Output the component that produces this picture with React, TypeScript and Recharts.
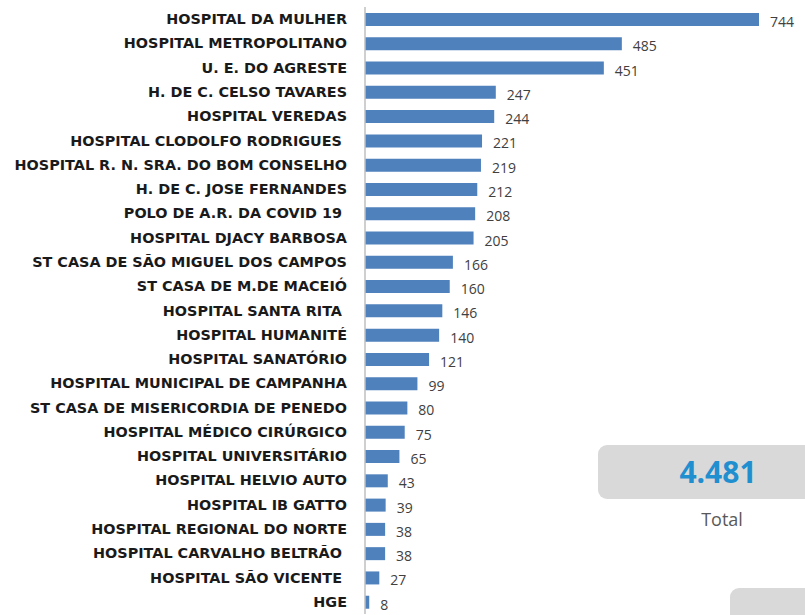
import React from 'react'
import { BarChart, Bar, XAxis, YAxis, LabelList } from 'recharts'

const hospitals = [
  'HOSPITAL DA MULHER',
  'HOSPITAL METROPOLITANO',
  'U. E. DO AGRESTE',
  'H. DE C. CELSO TAVARES',
  'HOSPITAL VEREDAS',
  'HOSPITAL CLODOLFO RODRIGUES ',
  'HOSPITAL R. N. SRA. DO BOM CONSELHO',
  'H. DE C. JOSE FERNANDES',
  'POLO DE A.R. DA COVID 19 ',
  'HOSPITAL DJACY BARBOSA',
  'ST CASA DE SÃO MIGUEL DOS CAMPOS',
  'ST CASA DE M.DE MACEIÓ',
  'HOSPITAL SANTA RITA ',
  'HOSPITAL HUMANITÉ',
  'HOSPITAL SANATÓRIO',
  'HOSPITAL MUNICIPAL DE CAMPANHA',
  'ST CASA DE MISERICORDIA DE PENEDO',
  'HOSPITAL MÉDICO CIRÚRGICO',
  'HOSPITAL UNIVERSITÁRIO',
  'HOSPITAL HELVIO AUTO',
  'HOSPITAL IB GATTO',
  'HOSPITAL REGIONAL DO NORTE',
  'HOSPITAL CARVALHO BELTRÃO ',
  'HOSPITAL SÃO VICENTE ',
  'HGE',
]

const counts = [744, 485, 451, 247, 244, 221, 219, 212, 208, 205, 166, 160, 146, 140, 121, 99, 80, 75, 65, 43, 39, 38, 38, 27, 8]

const totalLabel = '4.481'

const data = hospitals.map((name, i) => ({ name, v: counts[i] }))

const HospitalTick = (props: any) => {
  const { y, payload } = props
  return (
    <text
      x={347}
      y={y}
      dy={5}
      textAnchor="end"
      fill="#1a1a1a"
      fontFamily="'DejaVu Sans', sans-serif"
      fontWeight={700}
      fontSize={14.4}
      style={{ whiteSpace: 'pre' }}
    >
      {payload.value}
    </text>
  )
}

const ValueLabel = (props: any) => {
  const { x, y, width, height, value } = props
  return (
    <text
      x={x + width + 11}
      y={y + height / 2 + 7.5}
      fill="#404040"
      fontFamily="'Open Sans', sans-serif"
      fontSize={14}
    >
      {value}
    </text>
  )
}

export default function App() {
  return (
    <div style={{ position: 'absolute', left: 0, top: 0, width: 805, height: 615, background: '#fff', overflow: 'hidden' }}>
      <BarChart
        width={805}
        height={615}
        data={data}
        layout="vertical"
        margin={{ top: 7, right: 46, bottom: 1, left: 0 }}
      >
        <XAxis type="number" hide domain={[0, 744]} />
        <YAxis
          type="category"
          dataKey="name"
          width={365}
          axisLine={{ stroke: '#BFBFBF', strokeWidth: 1.5 }}
          tickLine={false}
          interval={0}
          tick={<HospitalTick />}
        />
        <Bar dataKey="v" fill="#4F81BD" barSize={13} isAnimationActive={false}>
          <LabelList dataKey="v" content={<ValueLabel />} />
        </Bar>
      </BarChart>
      <div
        style={{
          position: 'absolute', left: 598, top: 445, width: 230, height: 54,
          background: '#D9D9D9', borderRadius: 9,
        }}
      />
      <div
        style={{
          position: 'absolute', left: 640, top: 450, width: 156, textAlign: 'center',
          fontFamily: "'Open Sans', sans-serif", fontWeight: 700, fontSize: 30, color: '#1F8FD0', lineHeight: '44px',
        }}
      >
        {totalLabel}
      </div>
      <div
        style={{
          position: 'absolute', left: 672, top: 507, width: 100, textAlign: 'center',
          fontFamily: "'Open Sans', sans-serif", fontSize: 18, color: '#595959', lineHeight: '24px',
        }}
      >
        Total
      </div>
      <div
        style={{
          position: 'absolute', left: 730, top: 588, width: 120, height: 60,
          background: '#D9D9D9', borderRadius: 9,
        }}
      />
    </div>
  )
}
